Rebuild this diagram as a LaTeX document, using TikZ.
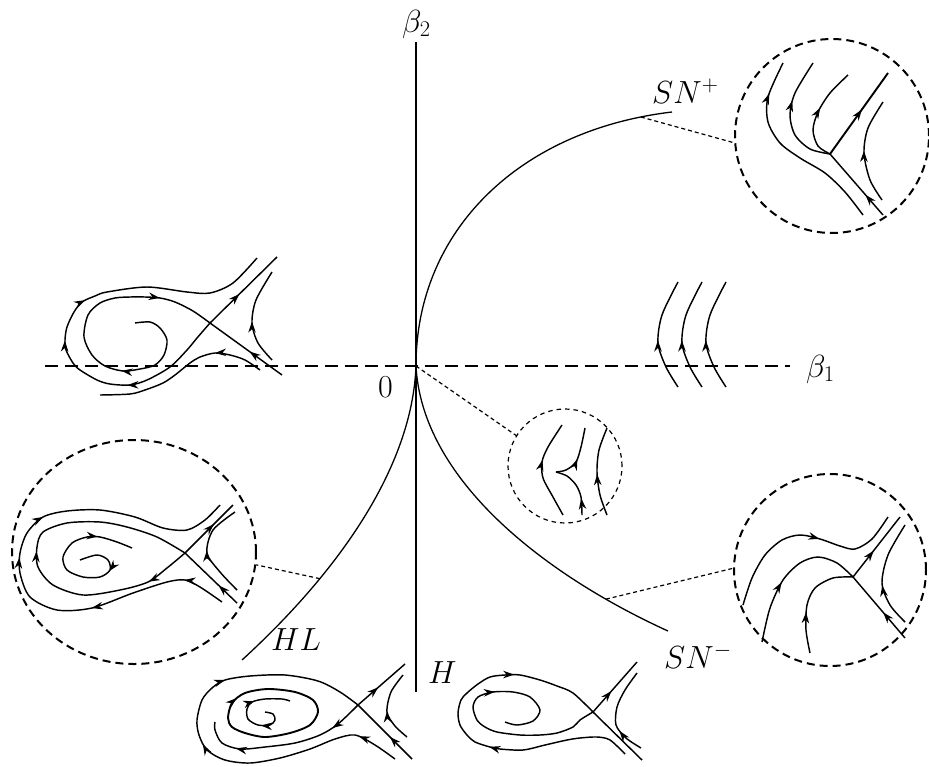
\RequirePackage{fix-cm}
\documentclass[tikz,border=0pt]{standalone}
\usetikzlibrary{arrows.meta,decorations.markings,shapes.geometric}
\begin{document}
\begin{tikzpicture}[x=1pt,y=-1pt,
  arr/.style={postaction={decorate,decoration={markings,mark=at position #1 with {\arrow{Stealth[length=11pt,width=7.5pt,inset=3.5pt]}}}}},
  axisv/.style={line width=1.5pt},
  axish/.style={line width=1.3pt,dash pattern=on 13pt off 7pt},
  bif/.style={line width=1.3pt},
  ph/.style={line width=1.45pt},
  thk/.style={line width=1.9pt},
  bigc/.style={draw,circle,dash pattern=on 8pt off 5pt,line width=2pt,inner sep=0pt},
  smallc/.style={draw,circle,dash pattern=on 4.5pt off 4pt,line width=1.2pt,inner sep=0pt},
  conn/.style={line width=1.2pt,dash pattern=on 4pt off 3pt},
  lbl/.style={font=\fontsize{32}{36}\selectfont,inner sep=0pt}]
\useasboundingbox (0,0) rectangle (929,766);

% axes
\coordinate (O) at (416,366);
\coordinate (vt) at (416,42);
\coordinate (vb) at (416,692);
\coordinate (hl) at (45,366);
\coordinate (hr) at (790,366);
\draw[axish] (hl) -- (hr);
\draw[axisv] (vt) -- (vb);

% bifurcation curves
\coordinate (snpE) at (672,112);
\coordinate (snmE) at (668,631);
\coordinate (hlE) at (242,660);
\draw[bif] (O) .. controls (416,230) and (520,130) .. (snpE) coordinate[pos=0.93] (snp);
\draw[bif] (O) .. controls (422,480) and (545,575) .. (snmE) coordinate[pos=0.83] (snm);
\draw[bif] (O) .. controls (412,470) and (335,575) .. (hlE) coordinate[pos=0.7] (hlp);

% labels
\node[lbl,anchor=base west] (lb2) at (402,32) {$\beta_2$};
\node[lbl,anchor=base west] (lb1) at (806,377) {$\beta_1$};
\node[lbl,anchor=base west] (l0) at (378,397) {0};
\node[lbl,anchor=base west] (lsnp) at (652,103) {$SN^{+}$};
\node[lbl,anchor=base west] (lsnm) at (664,668) {$SN^{-}$};
\node[lbl,anchor=base west] (lhl) at (271,650) {$HL$};
\node[lbl,anchor=base west] (lh) at (428,683) {$H$};

% circles
\node[bigc,minimum size=194pt] (cA) at (832,136) {};
\node[smallc,minimum size=114pt] (cB) at (565,466) {};
\node[bigc,minimum size=192pt] (cC) at (830,570) {};
\node[bigc,ellipse,minimum width=244pt,minimum height=224pt] (cD) at (134,552) {};

\draw[conn] (snp) -- (cA.184);
\draw[conn] (O) -- (cB.148);
\draw[conn] (snm) -- (cC.179);
\draw[conn] (hlp) -- (cD.-6);

% ---- SN+ circle
\coordinate (N1) at (830,154);
\coordinate (N1t) at (888,73);
\coordinate (N1b) at (883,215);
\draw[ph,arr=0.83] plot[smooth] coordinates {(863,215) (845,192) (825,173) (800,158) (780,143) (768,122) (768,97) (783,63)};
\draw[ph,arr=0.64] plot[smooth] coordinates {(830,154) (810,149) (795,135) (790,115) (795,93) (813,63)};
\draw[ph,arr=0.56] plot[smooth] coordinates {(830,154) (818,146) (813,130) (818,112) (830,93) (848,75)};
\draw[thk,arr=0.55] (N1) -- (N1t);
\draw[ph,arr=0.33] (N1b) -- (N1);
\draw[ph,arr=0.5] plot[smooth] coordinates {(882,200) (870,180) (864,153) (868,128) (883,102)};

% ---- middle circle
\coordinate (C1) at (556,472);
\draw[ph,arr=0.6] plot[smooth] coordinates {(563,515) (553,497) (543,478) (542,462) (548,447) (562,425)};
\draw[ph,arr=0.45] plot[smooth] coordinates {(556,472) (566,470) (576,462) (581,447) (585,428)};
\draw[ph,arr=0.3] plot[smooth] coordinates {(582,515) (581,497) (576,485) (567,476) (556,472)};
\draw[ph,arr=0.47] plot[smooth] coordinates {(607,515) (600,495) (597,472) (599,450) (607,428)};

% ---- right three curves
\foreach \d in {0,24,48}{
  \draw[ph,arr=0.45] plot[smooth] coordinates {(678+\d,387) (666+\d,367) (658+\d,343) (662+\d,315) (678+\d,282)};
}

% ---- SN- circle
\coordinate (P1) at (853,577);
\coordinate (P1b) at (905,638);
\coordinate (P1t) at (900,517);
\draw[ph,arr=0.58] plot[smooth] coordinates {(743,605) (752,578) (765,555) (782,540) (800,535) (820,539) (840,546) (855,549) (872,539) (888,517)};
\draw[ph,arr=0.42] plot[smooth] coordinates {(762,642) (770,608) (783,580) (800,563) (818,557) (837,563) (853,577)};
\draw[ph,arr=0.38] plot[smooth] coordinates {(810,653) (806,630) (807,605) (815,588) (833,578) (853,577)};
\draw[ph,arr=0.42] (P1b) -- (P1);
\draw[ph,arr=0.44] (P1) -- (P1t);
\draw[ph,arr=0.4] plot[smooth] coordinates {(905,622) (890,605) (882,583) (888,555) (905,525)};

% ---- HL circle (homoclinic loop)
\coordinate (S1) at (185,553);
\coordinate (S1b) at (237,603);
\coordinate (S1t) at (233,505);
\draw[ph,arr=0.09,arr=0.29,arr=0.51,arr=0.61] plot[smooth] coordinates {(222,602) (200,587) (185,580) (167,582) (133,593) (92,608) (57,610) (30,597) (20,573) (20,553) (27,533) (43,517) (67,511) (100,510) (135,517) (163,528) (187,530) (205,520) (220,505)};
\draw[ph,arr=0.13,arr=0.52] plot[smooth] coordinates {(185,553) (167,568) (148,582) (120,590) (83,595) (53,585) (38,567) (37,547) (43,532) (67,523) (100,522) (127,527) (157,537) (185,553)};
\draw[ph,arr=0.35] (S1b) -- (S1);
\draw[ph,arr=0.6] (S1) -- (S1t);
\draw[ph,arr=0.5] plot[smooth] coordinates {(237,590) (220,572) (207,553) (213,530) (235,512)};
\draw[ph,arr=0.23,arr=0.8] plot[smooth] coordinates {(80,560) (97,555) (108,560) (110,570) (100,577) (83,577) (67,570) (63,557) (72,543) (87,537) (100,537) (117,542) (132,548)};

% ---- left-middle portrait
\coordinate (S2) at (210,323);
\coordinate (S2b) at (282,375);
\coordinate (S2t) at (277,257);
\draw[ph,arr=0.45] (S2b) -- (S2);
\draw[ph,arr=0.44] (S2) -- (S2t);
\draw[ph,arr=0.33,arr=0.82] plot[smooth] coordinates {(135,323) (150,322) (160,328) (167,340) (164,355) (155,365) (140,369) (123,371) (105,366) (92,355) (84,337) (88,315) (100,303) (115,298) (130,297) (145,297) (160,298) (175,302) (193,311) (210,323)};
\draw[ph,arr=0.25,arr=0.45,arr=0.56] plot[smooth] coordinates {(210,323) (197,338) (187,350) (170,367) (147,380) (130,385) (110,384) (97,380) (80,370) (73,363) (66,350) (65,340) (67,327) (74,312) (82,302) (95,296) (107,292) (147,287) (187,292) (210,293) (233,283) (257,258)};
\draw[ph,arr=0.28] plot[smooth] coordinates {(260,370) (245,360) (230,355) (215,353) (200,357) (190,363) (175,375) (163,383) (145,390) (130,394) (100,395)};
\draw[ph,arr=0.45] plot[smooth] coordinates {(272,360) (258,343) (252,323) (256,300) (272,272)};

% ---- bottom-left portrait
\coordinate (S3) at (358,705);
\coordinate (S3b) at (412,759);
\coordinate (S3t) at (405,664);
\draw[ph,arr=0.41] (S3b) -- (S3);
\draw[ph,arr=0.43] (S3) -- (S3t);
\draw[ph,arr=0.45] plot[smooth] coordinates {(407,737) (395,726) (387,712) (391,692) (403,675)};
\draw[ph,arr=0.1,arr=0.49,arr=0.67] plot[smooth] coordinates {(395,759) (375,745) (355,735) (335,739) (310,749) (280,758) (250,763) (225,760) (207,750) (199,735) (197,720) (202,700) (212,688) (225,680) (250,676) (285,675) (318,681) (340,692) (358,705)};
\draw[ph,arr=0.2,arr=0.78] plot[smooth] coordinates {(358,705) (338,724) (320,735) (295,743) (265,747) (240,749) (222,743) (215,730) (215,722)};
\draw[thk,arr=0.03] plot[smooth cycle] coordinates {(228,718) (232,703) (245,693) (268,689) (295,692) (313,700) (318,712) (310,725) (290,733) (265,737) (245,733) (232,727)};
\draw[ph,arr=0.3,arr=0.65] plot[smooth] coordinates {(265,712) (273,714) (275,720) (270,725) (258,725) (248,719) (247,709) (252,702) (265,699) (282,699) (290,701)};

% ---- bottom-middle portrait
\coordinate (S4) at (593,712);
\coordinate (S4b) at (642,760);
\coordinate (S4t) at (637,662);
\draw[ph] (S4b) -- (S4);
\draw[ph,arr=0.42] (S4) -- (S4t);
\draw[ph,arr=0.3] plot[smooth] coordinates {(641,748) (626,738) (616,725) (617,707) (625,690) (637,673)};
\draw[ph,arr=0.4,arr=0.75] plot[smooth] coordinates {(625,754) (610,740) (597,737) (580,738) (567,740) (545,745) (523,750) (500,749) (490,747) (475,742) (467,735) (460,725) (458,713) (461,700) (467,693) (478,684) (490,677) (505,675) (520,675) (540,680) (557,686) (573,693) (593,712)};
\draw[ph,arr=0.64] plot[smooth] coordinates {(593,712) (580,720) (573,727) (557,733) (540,735) (520,735) (497,732) (485,727) (477,720) (473,707) (478,697) (493,692) (513,692) (530,697) (540,710) (533,721) (517,725) (505,722)};
\end{tikzpicture}
\end{document}
